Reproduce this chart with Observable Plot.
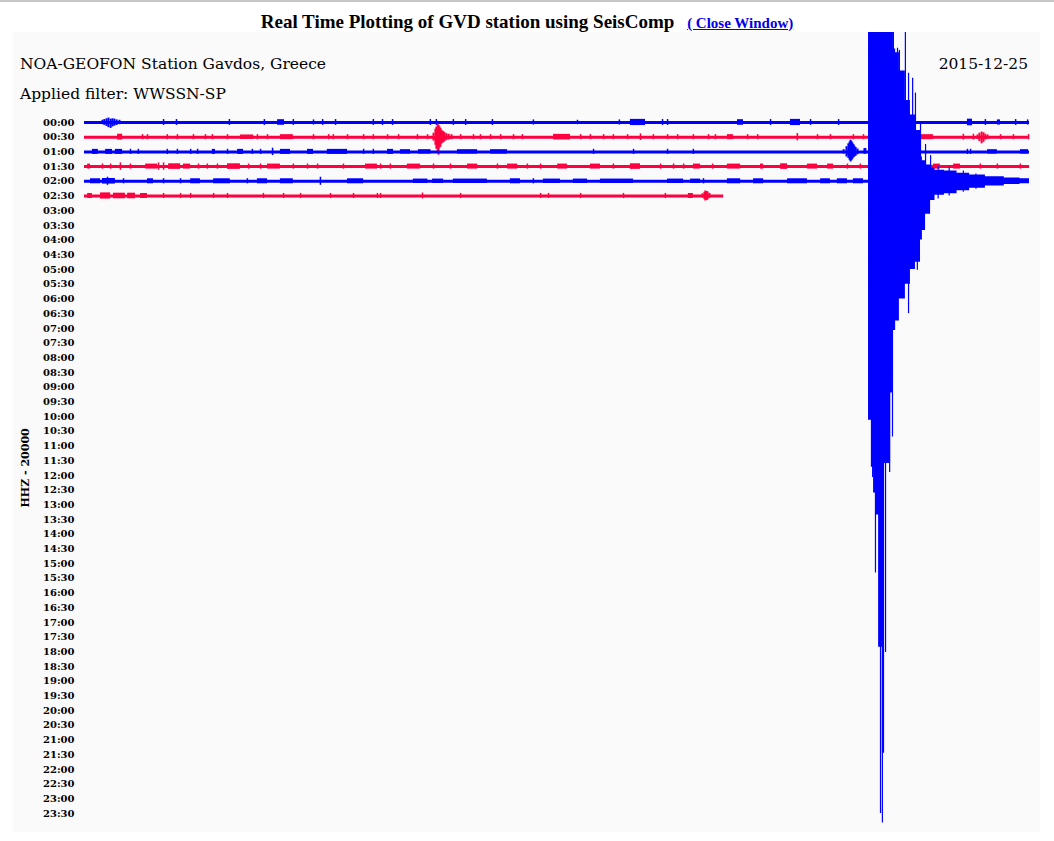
<!DOCTYPE html>
<html><head><meta charset="utf-8">
<script src="https://cdn.jsdelivr.net/npm/d3@7"></script>
<script src="https://cdn.jsdelivr.net/npm/@observablehq/plot@0.6"></script>
<style>
html,body{margin:0;padding:0;background:#fff;}
body{width:1054px;height:841px;position:relative;overflow:hidden;}
#topline{position:absolute;left:0;top:0;width:1054px;height:2px;background:#c8c8c8;}
#title{position:absolute;left:0;top:12px;width:1054px;text-align:center;font-family:"Liberation Serif";font-weight:bold;font-size:19px;line-height:19px;color:#000;white-space:nowrap;}
#title a{font-size:15px;color:#0000ee;margin-left:8px;text-decoration:underline;}
#panel{position:absolute;left:13px;top:32px;width:1027px;height:800px;background:#fafafa;}
.hdr{position:absolute;font-family:"DejaVu Serif","Liberation Serif",serif;font-size:15.5px;line-height:15px;color:#000;white-space:nowrap;}
#chart{position:absolute;left:0;top:0;}
</style></head>
<body>
<div id="topline"></div>
<div id="title">Real Time Plotting of GVD station using SeisComp <a href="#">( Close Window)</a></div>
<div id="panel">
  <div id="chart"></div>
  <div class="hdr" style="left:7px;top:25px;">NOA-GEOFON Station Gavdos, Greece</div>
  <div class="hdr" style="right:12px;top:25px;">2015-12-25</div>
  <div class="hdr" style="left:7px;top:55px;">Applied filter: WWSSN-SP</div>
</div>
<script>
// ---- helicorder lines (30 minutes per line) ----
const timeLabels = ["00:00","00:30","01:00","01:30","02:00","02:30","03:00","03:30","04:00","04:30","05:00","05:30",
  "06:00","06:30","07:00","07:30","08:00","08:30","09:00","09:30","10:00","10:30","11:00","11:30",
  "12:00","12:30","13:00","13:30","14:00","14:30","15:00","15:30","16:00","16:30","17:00","17:30",
  "18:00","18:30","19:00","19:30","20:00","20:30","21:00","21:30","22:00","22:30","23:00","23:30"];
const rowSpacing = 20000;            // counts per line ("HHZ - 20000")
const traceEnd = [30, 30, 30, 30, 30, 20.29];   // minutes recorded on each drawn line
const traceColors = ["#0000ff", "#ff0040"];

// noise spikes per line: [minute, amplitude counts]
const row0Spikes = [[2.51,4000],[2.92,4000],[4.60,4000],[5.71,4000],[6.63,4000],[7.27,3500],[7.56,4000],[7.97,4000],[9.17,4000],[9.46,4000],[9.78,4000],[10.98,4000],[11.17,4000],[11.71,4000],[12.10,4000],[12.95,4000],[14.25,3500],[15.65,3000],[16.98,3500],[18.35,4000],[18.51,4000],[21.78,4000],[23.05,4000],[23.94,4000],[28.60,4000],[29.56,4000],[29.94,3500]];
const row1Spikes = [[1.84,3500],[2.00,3500],[2.63,3500],[2.95,3500],[3.46,3500],[3.84,3500],[4.06,3500],[4.54,3500],[5.49,3500],[5.81,3500],[7.27,3500],[7.75,3500],[7.90,3500],[8.35,3500],[8.86,3500],[9.17,3500],[9.62,3500],[9.97,3500],[10.57,3500],[10.89,3500],[11.94,3500],[12.35,3500],[12.57,3500],[12.89,3500],[13.21,3500],[13.62,3500],[13.90,3500],[15.75,3500],[16.06,3500],[16.48,3500],[16.79,3500],[17.24,3500],[17.65,4500],[18.06,3500],[18.51,3500],[18.83,3500],[19.33,3500],[19.81,3500],[20.03,3500],[21.05,3500],[21.37,3500],[22.63,5000],[23.27,3500],[23.68,3500],[24.41,3500],[24.73,3500],[27.90,4000],[28.22,4000],[29.08,3500],[29.49,3500],[29.97,3500]];
const row2Spikes = [[1.46,3500],[1.71,3500],[2.63,3500],[2.95,3500],[3.37,3500],[3.59,3500],[4.54,3500],[5.33,3500],[5.59,3500],[5.97,5000],[8.86,3500],[9.17,3500],[16.16,3500],[17.43,3500],[18.51,3500],[19.33,3500],[28.03,3500],[28.13,3500]];
const row3Spikes = [[0.57,3500],[0.83,3500],[1.14,5000],[1.46,3500],[2.35,5000],[2.51,5000],[3.62,3500],[3.90,3500],[4.22,3500],[5.21,3500],[5.59,3500],[6.63,3500],[7.08,3500],[7.40,3500],[8.22,3500],[9.40,3500],[9.71,3500],[11.08,3500],[11.62,3500],[13.11,3500],[14.06,3500],[14.48,3500],[16.79,3500],[18.29,3500],[18.70,3500],[19.02,3500],[19.94,3500],[24.22,3500],[24.63,3500],[28.44,3500],[28.98,3500],[29.71,3500]];
const row4Spikes = [[0.73,5500],[1.24,3500],[2.51,3500],[3.05,3500],[5.17,3500],[7.49,5500],[14.25,3500],[19.65,3500]];
const row5Spikes = [[2.51,3500],[3.05,3500],[3.37,3500],[4.10,3500],[4.54,3500],[5.68,3500],[6.32,3500],[6.86,3500],[7.81,3500],[8.54,3500],[9.30,3500],[9.40,3500],[10.73,4000],[11.94,3500],[14.48,3500],[14.73,3500],[15.75,3500],[17.11,3500],[18.44,3500]];

// noisy stretches per line: [start minute, end minute, amplitude counts]
const row0Bursts = [[6.13,6.35,3800],[17.33,17.81,4200],[20.73,20.92,3800],[22.41,22.73,4200],[28.03,28.19,4500],[28.98,29.08,3500]];
const row1Bursts = [[1.05,1.21,4000],[4.95,5.37,3000],[6.22,6.63,3400],[14.89,15.43,3800],[20.41,20.60,3400],[26.54,26.95,3400]];
const row2Bursts = [[0.25,0.44,3400],[0.67,0.89,3400],[0.98,1.21,3400],[4.06,4.16,3400],[4.86,5.05,3400],[6.22,6.54,3400],[7.08,7.27,3400],[7.71,8.35,3400],[9.62,9.81,3400],[10.03,10.35,3000],[10.6,11.0,3000],[11.84,12.48,3000],[12.89,13.43,3000],[28.67,28.98,3000],[29.71,29.97,3000]];
const row3Bursts = [[0.10,0.19,3400],[1.94,2.32,3400],[2.67,3.05,3800],[3.14,3.37,3400],[4.54,4.95,3800],[5.81,6.22,3400],[8.92,9.30,3400],[10.25,10.67,3400],[12.16,12.48,3400],[13.43,13.75,3400],[15.02,15.33,3400],[16.06,16.38,3400],[17.33,17.65,3800],[19.33,19.56,3400],[20.41,20.83,3400],[21.46,21.56,3400],[22.10,22.32,3800],[22.95,23.27,3400],[23.59,23.78,3400],[26.95,27.17,3400],[27.59,27.81,3400]];
const row4Bursts = [[0.19,0.51,3400],[0.57,0.98,3800],[2.00,2.19,3400],[3.37,3.68,3400],[4.10,4.63,3400],[5.49,5.81,3400],[6.22,6.63,3400],[8.35,8.86,3400],[10.44,10.90,3000],[11.05,11.40,3000],[11.71,12.79,3000],[13.52,13.84,3400],[14.57,15.11,3000],[15.52,15.97,3000],[16.38,17.43,3000],[18.51,19.02,3000],[19.24,19.56,3000],[20.41,20.83,3400],[21.24,21.56,3400],[22.32,22.95,3400],[23.37,23.68,3400],[23.90,24.22,3400],[24.41,24.73,3400]];
const row5Bursts = [[0.10,0.25,3400],[0.51,0.83,4200],[0.92,1.30,3800],[1.37,1.62,3800],[1.78,2.00,3400],[19.17,19.33,3400]];

// small local events: [minute, up counts, down counts]
const row0Events = [[0.57,3000,3000],[0.63,4000,4000],[0.70,5000,5500],[0.76,6000,7000],[0.83,4500,8000],[0.89,5000,6000],[0.95,4500,5000],[1.02,3500,4000],[1.11,3000,3000]];
const row1Events = [[11.08,5400,5400],[11.14,11000,11000],[11.17,13600,16300],[11.21,17700,21800],[11.24,16000,24500],[11.27,14000,15000],[11.30,12000,13600],[11.33,9500,9500],[11.37,8000,8000],[11.40,7000,7000],[11.43,6000,6000],[11.49,4800,4800],[11.56,4000,4000],[11.65,3400,3400],
  [28.35,3000,3000],[28.41,5400,6000],[28.48,7000,9000],[28.54,6000,7000],[28.60,4000,4000],[28.67,3000,3000]];
const row2Events = [[24.10,3000,3000],[24.19,7000,7000],[24.25,11000,9000],[24.29,13500,11500],[24.32,15900,13600],[24.35,14000,12000],[24.38,12000,10000],[24.41,10000,8000],[24.44,8000,7000],[24.48,6000,6000],[24.54,4000,4000],[24.76,4500,3000],[24.79,4500,3000]];
const row5Events = [[19.62,3000,3000],[19.68,5000,5000],[19.71,6800,6800],[19.75,6000,6000],[19.78,5500,5500],[19.84,3500,3500]];

// the large earthquake, recorded on the 02:00 line
const quakeRow = 4;
const quakeMinute = [24.89,24.98,25.05,25.14,25.21,25.33,25.40,25.59,25.65,25.68,25.75,25.87,26.06,26.22,26.38,26.54,26.60,26.70,26.86,27.00,27.30,27.70,28.10,28.60,29.20,29.70,30.00];
const quakeTop    = [230000,230000,230000,230000,230000,230000,230000,230000,230000,180000,175000,150000,110000,90000,69000,33000,28000,22000,18000,15000,14000,11000,8500,6000,4500,3500,3000];
const quakeBottom = [-325000,-389000,-424000,-454000,-634000,-778000,-384000,-288000,-260000,-203000,-190000,-160000,-140000,-120000,-110000,-80000,-67000,-45000,-26000,-19000,-17000,-13000,-9500,-6500,-4500,-3500,-3000];
// isolated swings: [minute, top counts, bottom counts]
const quakeSpikes = [[25.62,230000,0],[25.68,230000,0],[26.06,230000,0],[25.81,181000,0],[25.87,178000,0],[26.16,147000,0],[26.29,140000,0],[26.38,120000,0],[26.54,79000,0],[26.70,50000,0],[26.86,35000,0],
  [25.87,0,-152000],[25.94,0,-150000],[26.16,0,-180000],[26.44,0,-121000],[25.65,0,-348000],[25.49,0,-384000],[25.56,0,-396000],[25.02,0,-403000],[25.11,0,-533000],[25.43,0,-641000],[25.27,0,-860000],[25.33,0,-873000],
  [27.10,20000,-24000],[27.45,18000,-20000],[27.90,14000,-15000],[28.30,10000,-11000]];

const rowSpikes = [row0Spikes,row1Spikes,row2Spikes,row3Spikes,row4Spikes,row5Spikes];
const rowBursts = [row0Bursts,row1Bursts,row2Bursts,row3Bursts,row4Bursts,row5Bursts];
const rowEvents = [row0Events,row1Events,row2Events,[],[],row5Events];

const marks = [];
traceEnd.forEach((end, r) => {
  const base = r * rowSpacing;
  const color = traceColors[r % 2];
  marks.push(Plot.ruleY([{y: base, x1: 0, x2: end}], {y: "y", x1: "x1", x2: "x2", stroke: color, strokeWidth: 3}));
  marks.push(Plot.rect(rowBursts[r], {x1: d => d[0], x2: d => d[1], y1: d => base - d[2], y2: d => base + d[2], fill: color}));
  marks.push(Plot.ruleX(rowSpikes[r], {x: d => d[0], y1: d => base - d[1], y2: d => base + d[1], stroke: color, strokeWidth: 1.5}));
  marks.push(Plot.ruleX(rowEvents[r], {x: d => d[0], y1: d => base - d[1], y2: d => base + d[2], stroke: color, strokeWidth: 2}));
});
const quakeBase = quakeRow * rowSpacing;
const quakeData = quakeMinute.map((m, i) => ({m, top: quakeTop[i], bottom: quakeBottom[i]}));
marks.push(Plot.areaY(quakeData, {x: "m", y1: d => quakeBase - d.top, y2: d => quakeBase - d.bottom, curve: "step-after", fill: "#0000ff", clip: true}));
marks.push(Plot.ruleX(quakeSpikes, {x: d => d[0], y1: d => quakeBase - d[1], y2: d => quakeBase - d[2], stroke: "#0000ff", strokeWidth: 1.2, clip: true}));
marks.push(Plot.axisY(timeLabels.map((_, i) => i * rowSpacing), {
  tickSize: 0, tickPadding: 10,
  tickFormat: d => timeLabels[Math.round(d / rowSpacing)],
  label: null, fontWeight: "bold"
}));
// channel label, centred on the hour lines
marks.push(Plot.text(["HHZ - 20000"], {
  frameAnchor: "left", y: () => (timeLabels.length - 1) * rowSpacing / 2,
  text: d => d, rotate: -90, textAnchor: "middle", lineAnchor: "middle",
  dx: -59, fontWeight: "bold", fontSize: 11
}));

const chart = Plot.plot({
  width: 1027, height: 800,
  marginLeft: 71, marginRight: 11, marginTop: 0, marginBottom: 0,
  style: {background: "transparent", fontFamily: "DejaVu Serif", fontSize: "10px", color: "#000", overflow: "visible"},
  x: {domain: [0, 30], axis: null},
  y: {domain: [-122400, 965900], range: [0, 800]},
  marks
});
document.getElementById("chart").appendChild(chart);
</script>
</body></html>
